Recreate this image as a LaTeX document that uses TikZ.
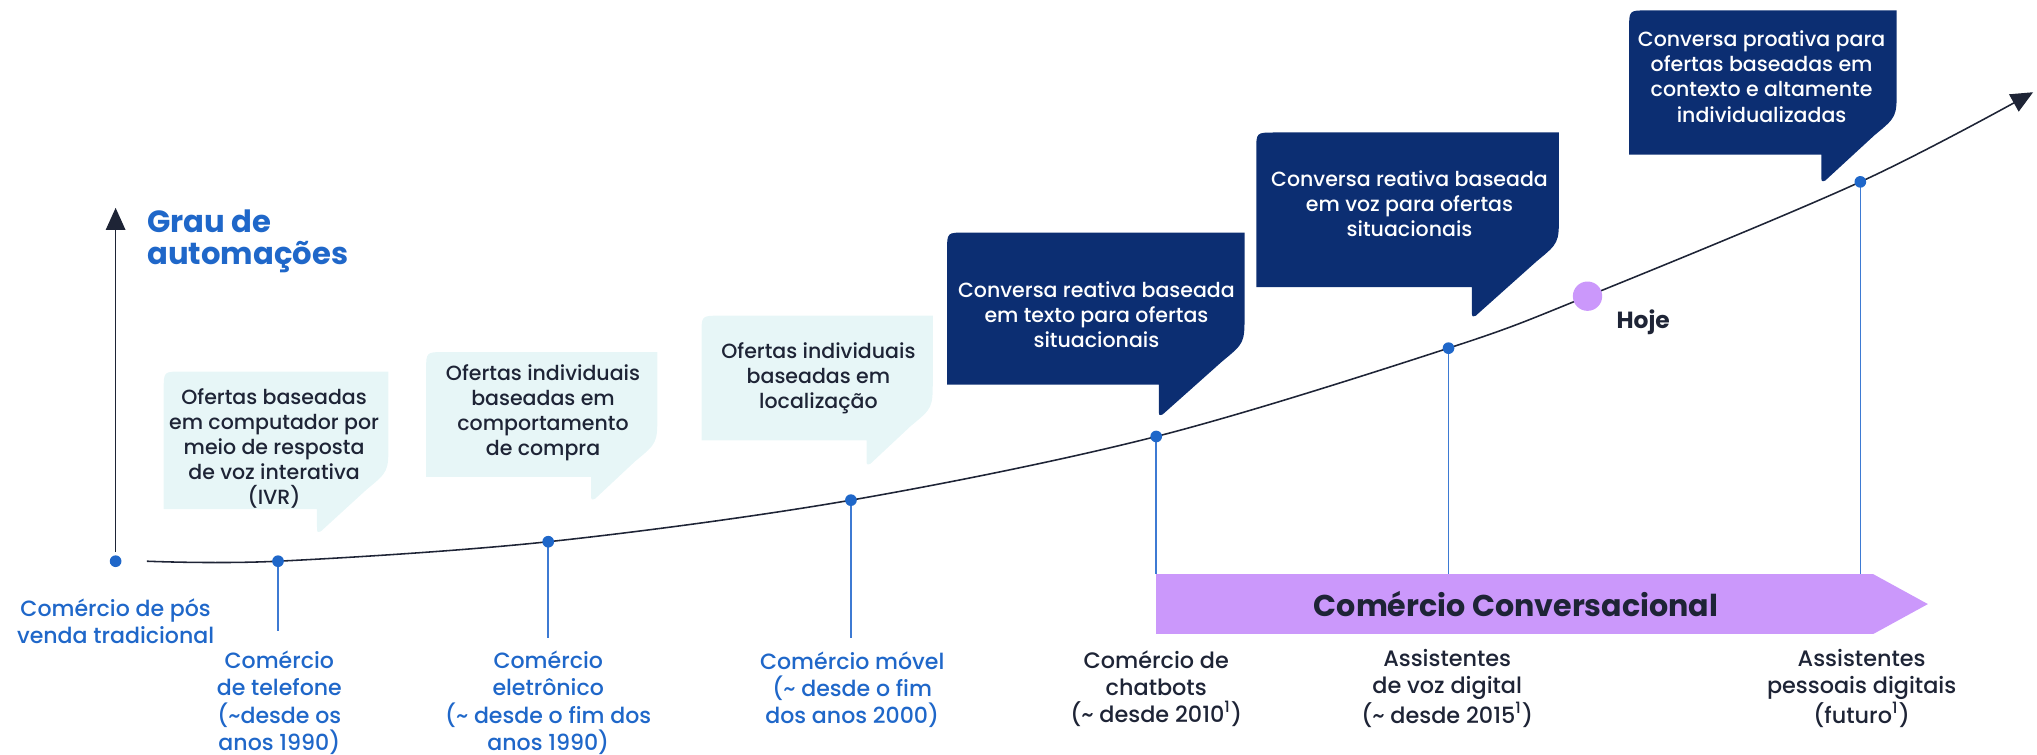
\documentclass[tikz,border=0pt]{standalone}
\usepackage{fontspec}
\setmainfont{Poppins}[UprightFont=* Medium,BoldFont=* Bold]
\usetikzlibrary{arrows.meta}

\definecolor{navy}{HTML}{0C2E72}
\definecolor{mist}{HTML}{E7F6F7}
\definecolor{ink}{HTML}{1E2436}
\definecolor{azul}{HTML}{1F67C9}
\definecolor{lilac}{HTML}{CB98FB}
\definecolor{stemblue}{HTML}{3D7AD3}

% speech bubble: style, left, top, right, bottom, tail x, tip y, knee y
\newcommand{\bubble}[8]{%
  \fill[#1] (#2,#5) -- (#2,#3+14) .. controls (#2,#3) .. (#2+14,#3)
    -- (#4,#3) -- (#4,#8-22) .. controls (#4,#8) .. (#4-17,#8+14)
    -- (#6+3,#7) .. controls (#6,#7+1) .. (#6,#7-4) -- (#6,#5) -- cycle;}

\begin{document}
\begin{tikzpicture}[x=0.5pt,y=-0.5pt,
  dot/.style={circle,fill=azul,inner sep=0pt,minimum size=4.5pt},
  stem/.style={stemblue,line width=0.6pt},
  headarrow/.style={-{Triangle[width=7.5pt,length=8.5pt]}},
  bubtext/.style={align=center,inner sep=0pt,font=\fontsize{7.9}{9.65}\selectfont},
  lowlabel/.style={align=center,inner sep=0pt,text=azul,font=\fontsize{8.5}{10.5}\selectfont},
  darklabel/.style={align=center,inner sep=0pt,text=ink,font=\fontsize{8.6}{10.5}\selectfont}]

\useasboundingbox (0,0) rectangle (1568,581);

% bubbles
\bubble{mist}{126}{286}{299}{392}{244}{409}{363}
\bubble{mist}{328}{271}{506}{367}{455}{384}{341}
\bubble{mist}{540}{243}{718}{339}{667}{357}{314}
\bubble{navy}{729}{179}{958}{296}{892}{319}{264}
\bubble{navy}{967}{102}{1200}{221}{1133}{243}{187}
\bubble{navy}{1254}{8}{1460}{119}{1402}{139}{90}

\node[bubtext,text=ink] (b1) at (211,345) {Ofertas baseadas\\em computador por\\meio de resposta\\de voz interativa\\(IVR)};
\node[bubtext,text=ink] (b2) at (418,318) {Ofertas individuais\\baseadas em\\comportamento\\de compra};
\node[bubtext,text=ink] (b3) at (630,291) {Ofertas individuais\\baseadas em\\localização};
\node[bubtext,text=white] (b4) at (844,242) {Conversa reativa baseada\\em texto para ofertas\\situacionais};
\node[bubtext,text=white] (b5) at (1085,157) {Conversa reativa baseada\\em voz para ofertas\\situacionais};
\node[bubtext,text=white] (b6) at (1356,59) {Conversa proativa para\\ofertas baseadas em\\contexto e altamente\\individualizadas};

% axis
\coordinate (ybot) at (89,425);
\coordinate (ytop) at (89,160);
\draw[ink,line width=0.6pt,headarrow] (ybot) -- (ytop);
\node[anchor=north west,align=left,inner sep=0pt,text=azul,
  font=\fontsize{11.8}{12.5}\selectfont\bfseries] (grau) at (113,161) {Grau de\\automações};

% dots on the curve
\node[dot] (d0) at (89,432) {};
\coordinate (c0) at (113,432);
\coordinate (d1) at (214,432);
\coordinate (d2) at (422,417);
\coordinate (d3) at (655,385);
\coordinate (d4) at (890,336);
\coordinate (d5) at (1115,268);
\coordinate (hoje) at (1222,228);
\coordinate (d6) at (1432,140);
\coordinate (cend) at (1565,71);
\draw[ink,line width=0.6pt,headarrow] plot[smooth,tension=0.55] coordinates {(c0) (d1) (d2) (d3) (d4) (d5) (hoje) (d6) (cend)};

% stems
\coordinate (e1) at (214,486);
\coordinate (e2) at (422,491);
\coordinate (e3) at (655,491);
\coordinate (bandtop) at (890,442);
\draw[stem] (d1) -- (e1);
\draw[stem] (d2) -- (e2);
\draw[stem] (d3) -- (e3);
\draw[stem] (d4) -- (d4 |- bandtop);
\draw[stem] (d5) -- (d5 |- bandtop);
\draw[stem] (d6) -- (d6 |- bandtop);

% band
\fill[lilac] (890,442) -- (1442,442) -- (1484,465) -- (1442,488) -- (890,488) -- cycle;
\node[text=ink,inner sep=0pt,font=\fontsize{11.6}{13}\selectfont\bfseries] (band) at (1167,465) {Comércio Conversacional};

\foreach \p in {d1,d2,d3,d4,d5,d6} \node[dot] at (\p) {};
\node[circle,fill=lilac,inner sep=0pt,minimum size=11.3pt] (now) at (hoje) {};
\node[anchor=west,inner sep=0pt,text=ink,font=\fontsize{9}{11}\selectfont\bfseries] (nowlbl) at (1244,248) {Hoje};

% labels
\node[lowlabel] (l0) at (89,478) {Comércio de pós\\venda tradicional};
\node[lowlabel] (l1) at (215,541) {Comércio\\de telefone\\(\textasciitilde desde os\\anos 1990)};
\node[lowlabel] (l2) at (422,541) {Comércio\\eletrônico\\(\textasciitilde{} desde o fim dos\\anos 1990)};
\node[lowlabel] (l3) at (656,531) {Comércio móvel\\(\textasciitilde{} desde o fim\\dos anos 2000)};
\node[darklabel] (l4) at (890,530) {Comércio de\\chatbots\\(\textasciitilde{} desde 2010\textsuperscript{1})};
\node[darklabel] (l5) at (1114,530) {Assistentes\\de voz digital\\(\textasciitilde{} desde 2015\textsuperscript{1})};
\node[darklabel] (l6) at (1433,530) {Assistentes\\pessoais digitais\\(futuro\textsuperscript{1})};
\end{tikzpicture}
\end{document}
